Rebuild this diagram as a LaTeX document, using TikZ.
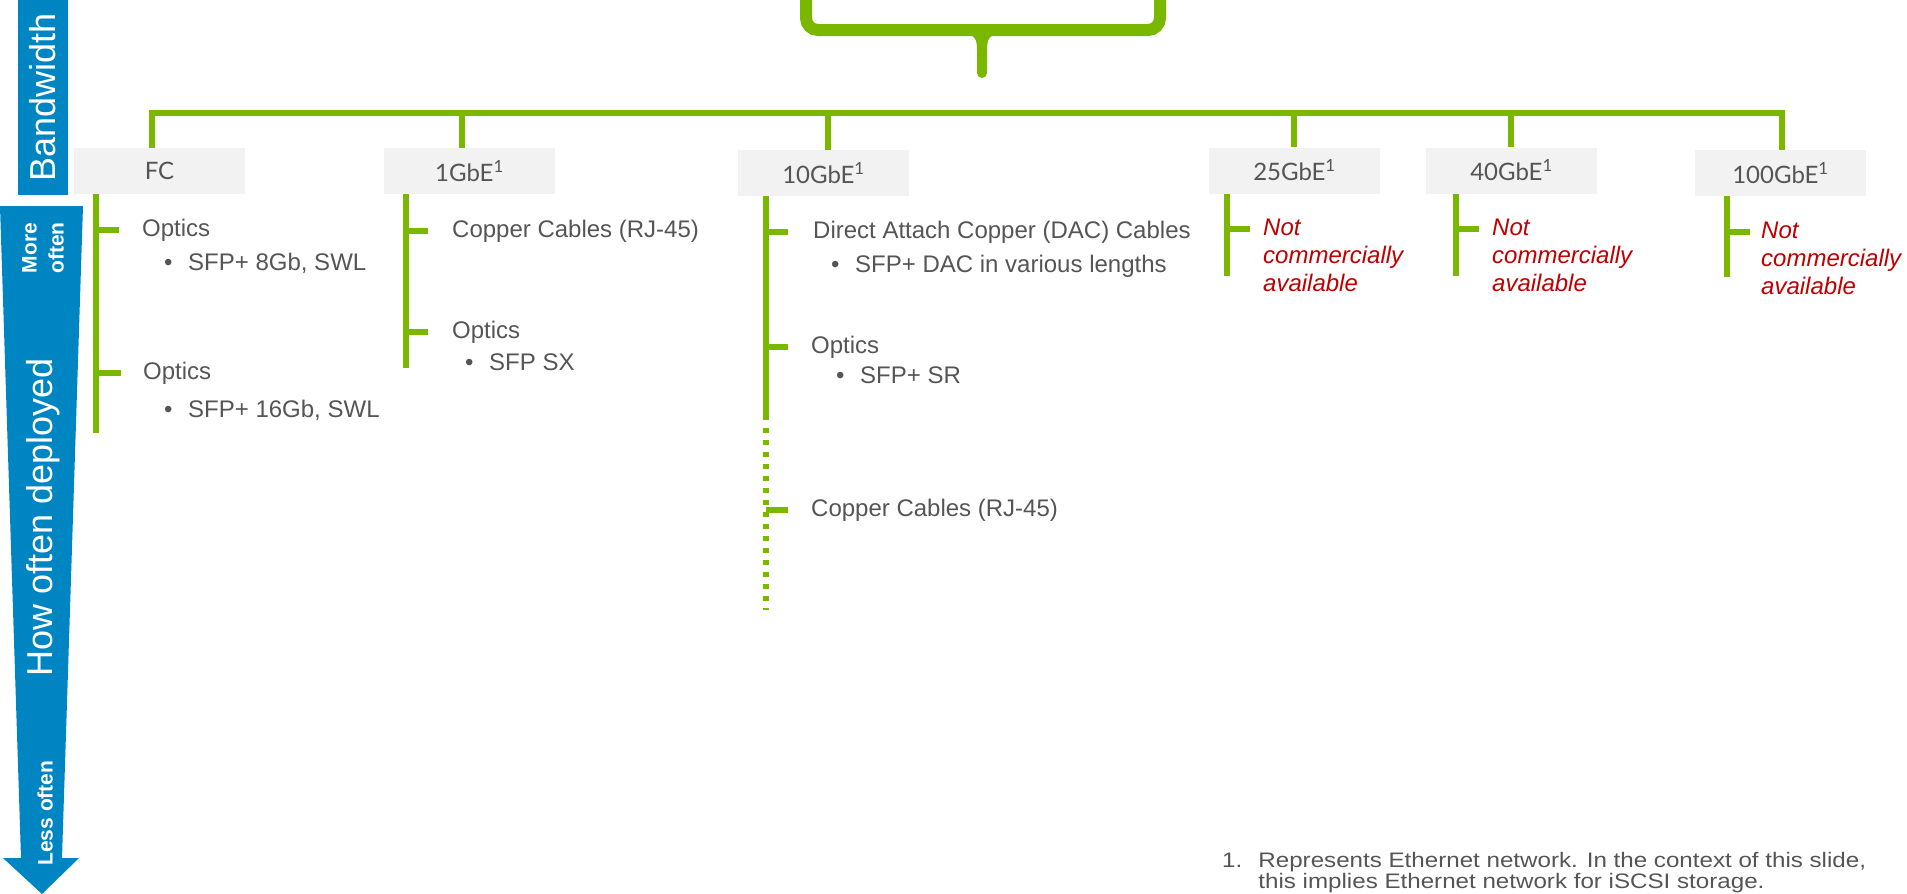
\documentclass[tikz,border=0pt]{standalone}
\usepackage{fontspec}
\setmainfont{Liberation Sans}
\newfontfamily\boxfont{Lato}
\usepackage{tikz}
\usetikzlibrary{positioning, calc}
\definecolor{dell_green}{HTML}{7AB800}
\definecolor{dell_blue}{HTML}{0085C3}
\definecolor{box_gray}{HTML}{F2F2F2}
\definecolor{text_gray}{HTML}{555555}
\definecolor{note_red}{HTML}{C00000}

\begin{document}
\begin{tikzpicture}[
        x=1pt, y=-1pt,
        bwbox/.style={rectangle, fill=box_gray, minimum width=171pt, minimum height=46pt, inner sep=0pt, text=text_gray, font=\boxfont\fontsize{24}{28}\selectfont},
        item/.style={anchor=west, inner sep=0pt, text=text_gray, font=\fontsize{24}{28}\selectfont},
        nope/.style={anchor=north west, inner sep=0pt, align=left, text=note_red, font=\itshape\fontsize{24}{28}\selectfont},
        note/.style={anchor=north west, inner sep=0pt, text=text_gray, font=\fontsize{21}{20}\selectfont},
        busline/.style={draw=dell_green, line width=5.5pt},
        branch/.style={draw=dell_green, line width=6pt},
        dotbranch/.style={branch, dash pattern=on 5pt off 7pt},
        sidelabel/.style={rotate=90, inner sep=0pt, text=white, font=\fontsize{36}{40}\selectfont},
        smalllabel/.style={rotate=90, inner sep=0pt, align=center, text=white, font=\bfseries\fontsize{21}{27}\selectfont},
    ]
        \useasboundingbox (0,0) rectangle (1907,894);

        % Axes
        \node[sidelabel, fill=dell_blue, minimum width=195pt, minimum height=50pt] (bw) at (43,97.5) {Bandwidth};
        \fill[dell_blue] (0,206) -- (83,206) -- (62,858) -- (79,858) -- (42,894) -- (3,858) -- (21,858) -- cycle;
        \node[smalllabel] (more) at (43,248) {More\\often};
        \node[sidelabel] (deploy) at (43,517) {How often deployed};
        \node[smalllabel] (less) at (45,813) {Less often};

        % Brace
        \draw[dell_green, line width=12pt, rounded corners=12pt] (806,-6) -- (806,30) -- (1160,30) -- (1160,-6);
        \fill[dell_green] (964,34) .. controls (975,34) and (977,40) .. (977,50) -- (977,73)
            arc[start angle=180, end angle=0, radius=5] -- (987,50) .. controls (987,40) and (989,34) .. (1000,34) -- cycle;

        % Bandwidths
        \node[bwbox] (fc) at (159.5,171) {FC};
        \node[bwbox] (onegbe) at (469.5,171) {1GbE\textsuperscript{1}};
        \node[bwbox] (tengbe) at (823.5,173) {10GbE\textsuperscript{1}};
        \node[bwbox] (twentyfive) at (1294.5,170.5) {25GbE\textsuperscript{1}};
        \node[bwbox] (forty) at (1511.5,170.5) {40GbE\textsuperscript{1}};
        \node[bwbox] (hundred) at (1780.5,173) {100GbE\textsuperscript{1}};

        % Bus
        \coordinate (busL) at (152,113);
        \coordinate (busR) at (1782,113);
        \draw[busline] ([xshift=-7.5pt]fc.north) -- (busL) -- (busR) -- ([xshift=1.5pt]hundred.north);
        \foreach \b/\s in {onegbe/-7.5, tengbe/4.5, twentyfive/-0.5, forty/-0.5}
            \draw[busline] ([xshift=\s pt]\b.north) -- ([xshift=\s pt]\b.north |- busL);

        % FC
        \coordinate (fcend) at (96,433);
        \draw[branch] (fcend |- fc.south) -- (fcend);
        \node[item] (fcopt1) at (142,230) {Optics};
        \node[item] (fcsfp1) at (164,263) {\makebox[24pt][l]{•}SFP+ 8Gb, SWL};
        \node[item] (fcopt2) at (143,373) {Optics};
        \node[item] (fcsfp2) at (164,410) {\makebox[24pt][l]{•}SFP+ 16Gb, SWL};
        \draw[branch] (fcend |- fcopt1.west) -- ++(23,0);
        \draw[branch] (fcend |- fcopt2.west) -- ++(25,0);

        % 1GbE
        \coordinate (oneend) at (406,368);
        \draw[branch] (oneend |- onegbe.south) -- (oneend);
        \node[item] (onecu) at (452,231) {Copper Cables (RJ-45)};
        \node[item] (oneopt) at (452,332) {Optics};
        \node[item] (onesfp) at (465,362) {\makebox[24pt][l]{•}SFP SX};
        \draw[branch] (oneend |- onecu.west) -- ++(22,0);
        \draw[branch] (oneend |- oneopt.west) -- ++(22,0);

        % 10GbE
        \coordinate (tenend) at (766,420);
        \coordinate (tendotA) at (766,428);
        \coordinate (tendotB) at (766,610);
        \draw[branch] (tenend |- tengbe.south) -- (tenend);
        \draw[dotbranch] (tendotA) -- (tendotB);
        \node[item] (tendac) at (813,232) {Direct Attach Copper (DAC) Cables};
        \node[item] (tensfp1) at (831,266) {\makebox[24pt][l]{•}SFP+ DAC in various lengths};
        \node[item] (tenopt) at (811,347) {Optics};
        \node[item] (tensfp2) at (836,375) {\makebox[24pt][l]{•}SFP+ SR};
        \node[item] (tencu) at (811,510) {Copper Cables (RJ-45)};
        \draw[branch] (tenend |- tendac.west) -- ++(22,0);
        \draw[branch] (tenend |- tenopt.west) -- ++(22,0);
        \draw[branch] (tenend |- tencu.west) -- ++(22,0);

        % 25, 40, 100GbE
        \coordinate (twfend) at (1227,276);
        \coordinate (fortend) at (1456,276);
        \coordinate (hunend) at (1727,277);
        \draw[branch] (twfend |- twentyfive.south) -- (twfend);
        \draw[branch] (fortend |- forty.south) -- (fortend);
        \draw[branch] (hunend |- hundred.south) -- (hunend);
        \node[nope] (twfna) at (1263,219) {Not\\commercially\\available};
        \node[nope] (fortna) at (1492,219) {Not\\commercially\\available};
        \node[nope] (hunna) at (1761,222) {Not\\commercially\\available};
        \draw[branch] ([yshift=-10pt]twfend |- twfna.north) -- ++(23,0);
        \draw[branch] ([yshift=-10pt]fortend |- fortna.north) -- ++(23,0);
        \draw[branch] ([yshift=-10pt]hunend |- hunna.north) -- ++(23,0);

        % Footnote
        \node[note] (fnote) at (1222,852) {\scalebox{1.15}[1]{\begin{tabular}{@{}l@{\hspace{14pt}}l@{}}1. & Represents Ethernet network. In the context of this slide,\\ & this implies Ethernet network for iSCSI storage.\end{tabular}}};
    \end{tikzpicture}
\end{document}
